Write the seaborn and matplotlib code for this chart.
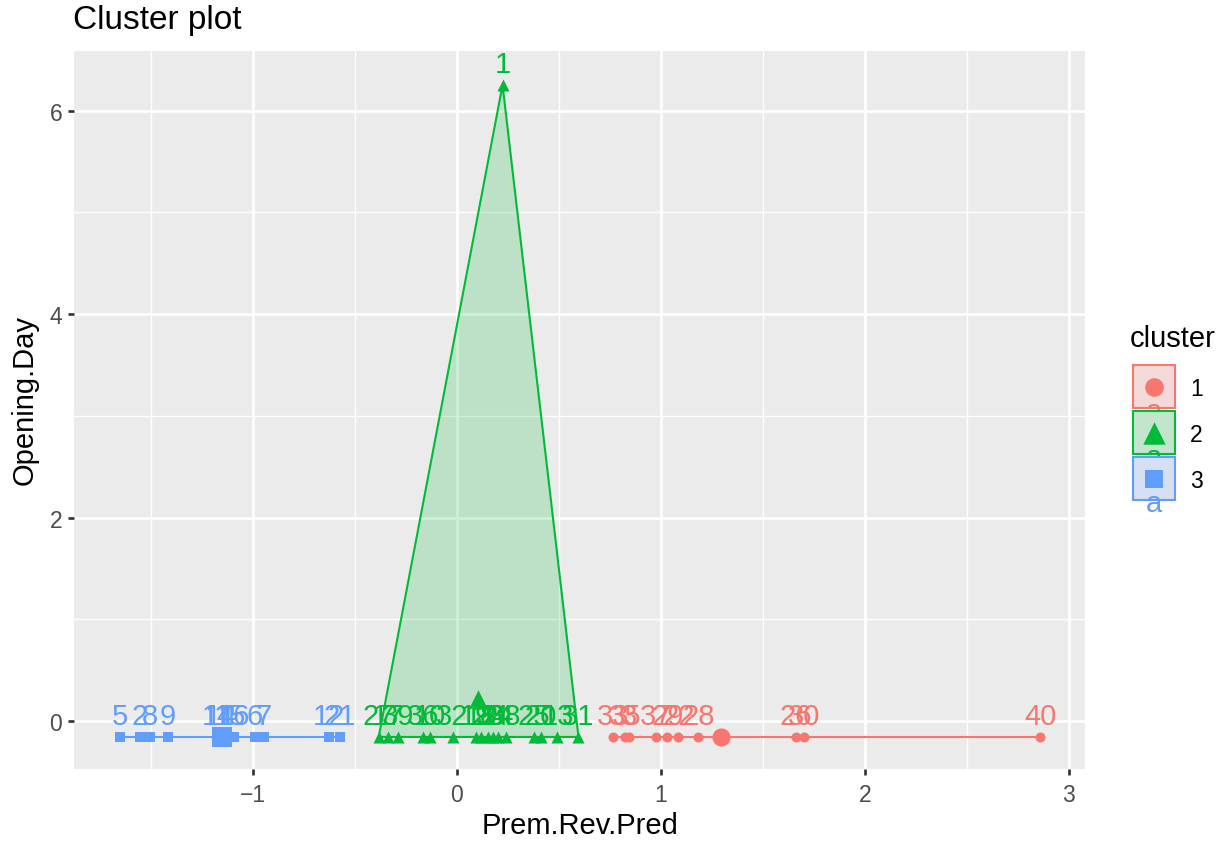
import numpy as np
import pandas as pd
import matplotlib
matplotlib.use("Agg")
import matplotlib.pyplot as plt
import seaborn as sns
from matplotlib.patches import Rectangle, Polygon

# ---------------- data ----------------
ids_c1 = [33, 35, 3, 37, 29, 22, 28, 26, 30, 40]
x_c1 = [0.768, 0.827, 0.847, 0.979, 1.033, 1.087, 1.185, 1.664, 1.703, 2.859]
y_c1 = [-0.157, -0.157, -0.157, -0.157, -0.157, -0.157, -0.157, -0.157, -0.157, -0.157]

ids_c2 = [27, 17, 39, 36, 10, 32, 19, 18, 23, 34, 24, 38, 25, 20, 13, 31, 1]
x_c2 = [-0.382, -0.338, -0.289, -0.166, -0.132, -0.020, 0.093, 0.117, 0.152,
        0.176, 0.201, 0.240, 0.377, 0.411, 0.494, 0.597, 0.225]
y_c2 = [-0.157, -0.157, -0.157, -0.157, -0.157, -0.157, -0.157, -0.157, -0.157,
        -0.157, -0.157, -0.157, -0.157, -0.157, -0.157, -0.157, 6.254]

ids_c3 = [5, 2, 8, 9, 11, 14, 4, 15, 16, 6, 7, 12, 21]
x_c3 = [-1.650, -1.552, -1.503, -1.415, -1.175, -1.155, -1.136, -1.111, -1.092,
        -0.989, -0.944, -0.627, -0.573]
y_c3 = [-0.157, -0.157, -0.157, -0.157, -0.157, -0.157, -0.157, -0.157, -0.157,
        -0.157, -0.157, -0.157, -0.157]

clusters = ["1", "2", "3"]
colors = {"1": "#F8766D", "2": "#00BA38", "3": "#619CFF"}
markers = {"1": "o", "2": "^", "3": "s"}
pt_size = {"1": 52, "2": 75, "3": 48}
cen_size = {"1": 170, "2": 175, "3": 210}
leg_size = {"1": 180, "2": 260, "3": 187}

x_ticks = [-1, 0, 1, 2, 3]
y_ticks = [0, 2, 4, 6]

df = pd.concat([
    pd.DataFrame({"id": ids_c1, "x": x_c1, "y": y_c1, "cluster": "1"}),
    pd.DataFrame({"id": ids_c2, "x": x_c2, "y": y_c2, "cluster": "2"}),
    pd.DataFrame({"id": ids_c3, "x": x_c3, "y": y_c3, "cluster": "3"}),
], ignore_index=True)

FONT = "Liberation Sans"
plt.rcParams["font.family"] = [FONT, "DejaVu Sans"]

W, H = 1225, 845
fig = plt.figure(figsize=(W / 100, H / 100), dpi=100)
fig.patch.set_facecolor("white")
L, R, T, B = 74, 1085, 52, 770
ax = fig.add_axes([L / W, 1 - B / H, (R - L) / W, (B - T) / H])
ax.set_facecolor("#EBEBEB")
for s in ax.spines.values():
    s.set_visible(False)

ax.set_xlim(-1.875, 3.079)
ax.set_ylim(-0.472, 6.588)
ax.set_xticks(x_ticks)
ax.set_yticks(y_ticks)
ax.set_xticks([-1.5, -0.5, 0.5, 1.5, 2.5], minor=True)
ax.set_yticks([1, 3, 5], minor=True)
ax.grid(which="major", color="white", linewidth=1.9)
ax.grid(which="minor", color="white", linewidth=0.95)
ax.set_axisbelow(True)
ax.tick_params(which="major", length=4.5, width=1.9, color="#333333",
               labelcolor="#4D4D4D", labelsize=16.5)
ax.tick_params(axis="x", which="major", pad=5.5)
ax.tick_params(axis="y", which="major", pad=4)
ax.tick_params(which="minor", length=0)


def hull(points):
    pts = sorted(set(points))
    if len(pts) <= 2:
        return pts

    def cross(o, a, b):
        return (a[0] - o[0]) * (b[1] - o[1]) - (a[1] - o[1]) * (b[0] - o[0])
    lower, upper = [], []
    for p in pts:
        while len(lower) >= 2 and cross(lower[-2], lower[-1], p) <= 0:
            lower.pop()
        lower.append(p)
    for p in reversed(pts):
        while len(upper) >= 2 and cross(upper[-2], upper[-1], p) <= 0:
            upper.pop()
        upper.append(p)
    return lower[:-1] + upper[:-1]


for c in clusters:
    sub = df[df.cluster == c]
    h = hull(list(zip(sub.x, sub.y)))
    if len(h) >= 3:
        ax.add_patch(Polygon(h, closed=True, facecolor=colors[c], alpha=0.2,
                             edgecolor="none", zorder=2))
        ax.add_patch(Polygon(h, closed=True, facecolor="none",
                             edgecolor=colors[c], linewidth=1.5, zorder=3))
    else:
        hx = [p[0] for p in h]
        hy = [p[1] for p in h]
        ax.plot(hx, hy, color=colors[c], linewidth=1.5, zorder=3)

for c in clusters:
    sub = df[df.cluster == c]
    sns.scatterplot(data=sub, x="x", y="y", color=colors[c], marker=markers[c],
                    s=pt_size[c], linewidth=0, ax=ax, zorder=4, legend=False)
    cen = pd.DataFrame({"x": [sub.x.mean()], "y": [sub.y.mean()]})
    sns.scatterplot(data=cen, x="x", y="y", color=colors[c], marker=markers[c],
                    s=cen_size[c], linewidth=0, ax=ax, zorder=5, legend=False)
    for _, r in sub.iterrows():
        ax.annotate(str(r["id"]), (r["x"], r["y"]), xytext=(0, 9.5),
                    textcoords="offset points", ha="center", va="baseline",
                    color=colors[c], fontsize=21, zorder=6)

ax.set_xlabel("")
ax.set_ylabel("")

fig.text(73 / W, 1 - 29 / H, "Cluster plot", fontsize=24, color="black",
         ha="left", va="baseline")
fig.text(580 / W, 1 - 834 / H, "Prem.Rev.Pred", fontsize=21, color="black",
         ha="center", va="baseline")
fig.text(25 / W, 1 - 400 / H, "Opening.Day", fontsize=21, color="black",
         ha="center", va="center", rotation=90)

# ---------------- legend ----------------
lg = fig.add_axes([0, 0, 1, 1], zorder=10)
lg.set_xlim(0, W)
lg.set_ylim(H, 0)
lg.axis("off")
lg.patch.set_alpha(0)
lg.text(1130, 347, "cluster", fontsize=21, ha="left", va="baseline")
kx, kw, kh = 1132, 44, 45
tops = [365, 411, 457]
z = 1
for c, ty in zip(clusters, tops):
    lg.add_patch(Rectangle((kx, ty), kw, kh, facecolor="#F2F2F2",
                           edgecolor="none", zorder=z))
    lg.add_patch(Rectangle((kx + 1, ty + 1), kw - 2, kh - 2, facecolor=colors[c],
                           alpha=0.2, edgecolor="none", zorder=z + 0.1))
    lg.add_patch(Rectangle((kx + 1, ty + 1), kw - 2, kh - 2, facecolor="none",
                           edgecolor=colors[c], linewidth=1.5, zorder=z + 0.2))
    lg.scatter([kx + kw / 2], [ty + kh / 2], marker=markers[c], s=leg_size[c],
               color=colors[c], linewidth=0, zorder=z + 0.3)
    lg.text(kx + kw / 2, ty + kh / 2 + 33, "a", fontsize=21, color=colors[c],
            ha="center", va="baseline", zorder=z + 0.4)
    lg.text(1190, ty + kh / 2 + 8.5, c, fontsize=16.5, ha="left", va="baseline",
            zorder=z + 0.5)
    z += 1

fig.savefig("out.png", dpi=100)
